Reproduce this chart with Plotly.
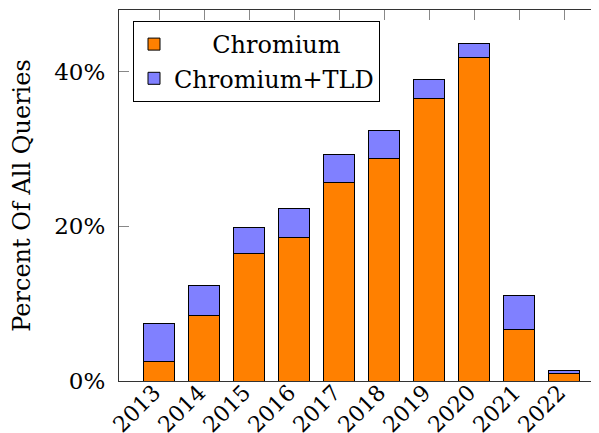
import plotly.graph_objects as go

years = [2013, 2014, 2015, 2016, 2017, 2018, 2019, 2020, 2021, 2022]
year_labels = [str(y) for y in years]
chromium = [2.5, 8.5, 16.5, 18.6, 25.7, 28.8, 36.5, 41.9, 6.7, 0.95]
chromium_tld_total = [7.4, 12.3, 19.9, 22.35, 29.25, 32.4, 38.95, 43.7, 11.1, 1.4]
tld_extra = [t - c for t, c in zip(chromium_tld_total, chromium)]
y_ticks = [0, 20, 40]
y_tick_labels = [f"{v}%" for v in y_ticks]

FONT = "DejaVu Serif"
BODY = 8  # default page body margin
W, H = 599 - BODY, 433 - BODY
ML, MT, MB, MR = 119 - BODY, 10 - BODY, 52, 0
px_per_year = 45.0
x_left = years[0] - 40 / px_per_year
x_right = x_left + (W - ML - MR) / px_per_year
plot_h = H - MT - MB

fig = go.Figure()
fig.add_trace(go.Bar(x=years, y=chromium, name="\u00a0\u00a0\u00a0\u00a0\u00a0Chromium", width=0.667,
                     marker=dict(color="#FF8000", line=dict(color="black", width=1))))
fig.add_trace(go.Bar(x=years, y=tld_extra, name="Chromium+TLD", width=0.667,
                     marker=dict(color="#8080FF", line=dict(color="black", width=1))))

fig.update_layout(
    width=W, height=H,
    margin=dict(l=ML, r=MR, t=MT, b=MB, autoexpand=False),
    barmode="stack",
    plot_bgcolor="white", paper_bgcolor="white",
    font=dict(family=FONT, size=24, color="black"),
    showlegend=True,
    legend=dict(x=(133 - 119) / (W - ML - MR), y=(381 - 21) / plot_h,
                xanchor="left", yanchor="top",
                bgcolor="white", bordercolor="black", borderwidth=1,
                traceorder="normal", font=dict(family=FONT, size=24),
                itemwidth=30, tracegroupgap=0),
    xaxis=dict(range=[x_left, x_right], tickvals=years,
               ticktext=[t + "\u00a0" for t in year_labels],
               tickangle=-45, ticks="", showline=True, linecolor="#333", linewidth=1.2,
               showgrid=False, zeroline=False, tickfont=dict(family=FONT, size=22),
               ticklabelstandoff=-16, automargin=False),
    xaxis2=dict(range=[x_left, x_right], overlaying="x", side="top", anchor="y",
                tickvals=years, ticks="inside", ticklen=10, tickcolor="#888",
                showticklabels=False, showline=True, linecolor="#333", linewidth=1.2,
                showgrid=False, zeroline=False, automargin=False),
    yaxis=dict(range=[0, 48], tickvals=y_ticks, ticktext=y_tick_labels, ticks="inside",
               ticklen=10, tickcolor="#888", showline=True, linecolor="#333",
               linewidth=1.2, showgrid=False, zeroline=False, automargin=False,
               ticklabelstandoff=8, tickfont=dict(family=FONT, size=23),
               title=dict(text="Percent Of All Queries", standoff=18,
                          font=dict(family=FONT, size=24))),
)
fig.add_trace(go.Scatter(x=[years[0]], y=[0], xaxis="x2", mode="markers",
                         marker=dict(opacity=0), showlegend=False, hoverinfo="skip"))
for v in y_ticks[1:]:
    fig.add_shape(type="line", xref="paper", yref="y",
                  x0=(593 - 119) / (W - ML - MR), x1=1.0, y0=v, y1=v,
                  line=dict(color="#888", width=1))

fig.write_html("out.html")
